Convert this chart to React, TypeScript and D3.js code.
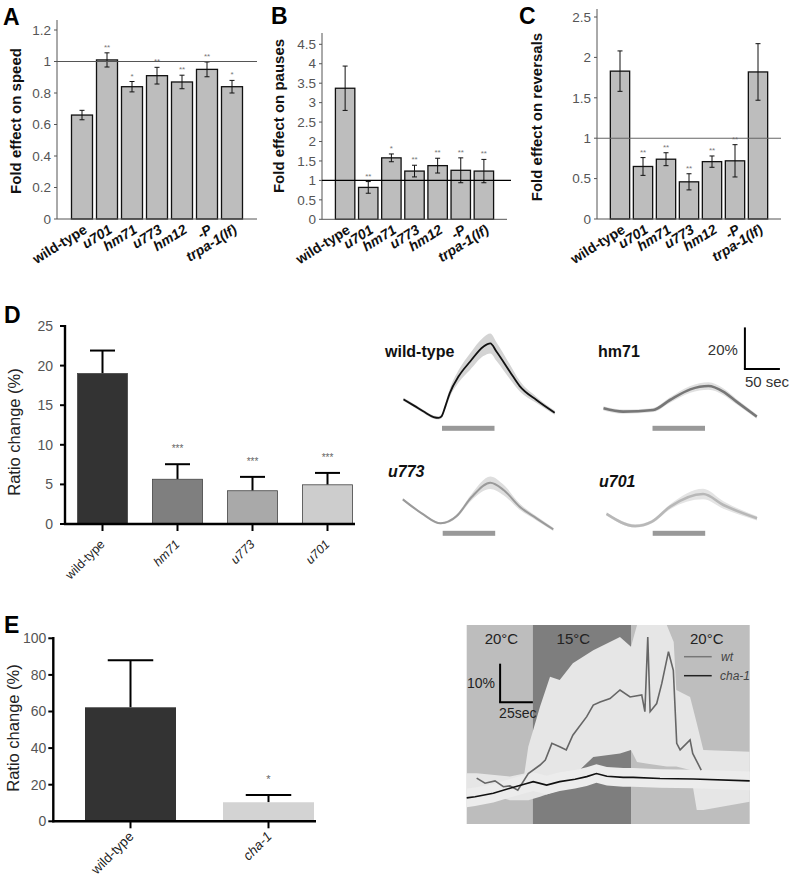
import React from "react";
import * as d3 from "d3";

const FONT = "'Liberation Sans', Arial, Helvetica, sans-serif";

// ---------- Panels A-C ----------
const genotypes = ["wild-type", "u701", "hm71", "u773", "hm12", "-P", "trpa-1(lf)"];
const genoItalic = [false, true, true, true, true, true, true];

const speedMean = [0.66, 1.01, 0.84, 0.91, 0.87, 0.95, 0.84];
const speedErr = [0.03, 0.045, 0.033, 0.053, 0.043, 0.047, 0.04];
const speedSig = ["", "**", "*", "**", "**", "**", "*"];
const speedTicks = [0, 0.2, 0.4, 0.6, 0.8, 1, 1.2];

const pauseMean = [3.37, 0.82, 1.58, 1.24, 1.38, 1.26, 1.24];
const pauseErr = [0.57, 0.15, 0.1, 0.15, 0.19, 0.32, 0.3];
const pauseSig = ["", "**", "*", "**", "**", "**", "**"];
const pauseTicks = [0, 0.5, 1, 1.5, 2, 2.5, 3, 3.5, 4, 4.5];

const revMean = [1.83, 0.65, 0.74, 0.46, 0.71, 0.72, 1.82];
const revErr = [0.25, 0.11, 0.08, 0.1, 0.07, 0.2, 0.35];
const revSig = ["", "**", "**", "**", "**", "**", ""];
const revTicks = [0, 0.5, 1, 1.5, 2, 2.5];

// ---------- Panel D bars ----------
const dGenotypes = ["wild-type", "hm71", "u773", "u701"];
const dItalic = [false, true, true, true];
const dMean = [19, 5.65, 4.2, 4.95];
const dErr = [2.9, 1.9, 1.75, 1.5];
const dSig = ["", "***", "***", "***"];
const dTicks = [0, 5, 10, 15, 20, 25];
const dColors = ["#333333", "#7f7f7f", "#a9a9a9", "#cdcdcd"];

// ---------- Panel D traces (t: s from stimulus onset, v: % ratio change) ----------
const stimulus = [0, 75];
const wtT = [-55, -40, -25, -12, -5, -1, 5, 11, 24, 40, 59, 69, 78, 97, 111, 135, 161];
const wtV = [9.1, 6.1, 3.0, 0.6, 0.2, 0.8, 6, 12, 20.3, 27.2, 34.4, 36, 32, 22.4, 15.5, 8.8, 2.7];
const wtS = [0.8, 0.8, 0.8, 0.8, 0.8, 0.9, 1.5, 2, 3, 4, 4.5, 4.8, 4.5, 3.5, 2.5, 1.5, 1];
const hm71T = [-70, -42, 1, 25, 54, 80, 101, 120, 149];
const hm71V = [4.8, 3.2, 4.0, 8.8, 13.9, 15.5, 12.8, 8.0, 0.8];
const hm71S = [1, 1, 1, 1.3, 1.6, 1.8, 1.6, 1.3, 1];
const u773T = [-57, -30, -3, 20, 41, 68, 87, 110, 134, 158];
const u773V = [11.5, 4.8, 0, 3.5, 12.5, 19.5, 16, 8, 2.4, -2.9];
const u773S = [0.5, 0.5, 0.5, 0.8, 1.5, 3, 2.5, 1.5, 1, 0.8];
const u701T = [-66, -25, -1, 25, 72, 101, 149];
const u701V = [4.5, -1.3, 0.8, 8, 14.1, 8.8, 2.4];
const u701S = [0.8, 0.8, 0.8, 1.2, 2.5, 1.8, 1];

// ---------- Panel E bars ----------
const eGenotypes = ["wild-type", "cha-1"];
const eItalic = [false, true];
const eMean = [62.3, 10.4];
const eErr = [25.7, 4];
const eSig = ["", "*"];
const eTicks = [0, 20, 40, 60, 80, 100];
const eColors = ["#333333", "#d3d3d3"];

// ---------- Panel E trace (t: s, v: %) ----------
const tempStart = [0, 50.4, 125.4];
const tempEnd = [50.4, 125.4, 216];
const tempLabel = ["20°C", "15°C", "20°C"];
const tempColor = ["#bdbdbd", "#7e7e7e", "#bebebe"];
const eWtT = [7.6, 14, 21.6, 28, 33, 39, 47, 56, 60, 65, 71, 76, 81, 91.6, 96.6, 101.8, 109.4, 117, 124.7, 133.6, 136, 138.2, 140, 145, 148.9, 154, 157.7, 160.3, 162.9, 170.5, 172.5, 179];
const eWtV = [4.8, 3.5, 4.1, 2.6, 2.8, 1.7, 6.0, 8.2, 9.5, 13.8, 12.9, 12.1, 15.9, 20.7, 23.7, 24.5, 25.4, 27.6, 25.8, 26.3, 22, 41.3, 22, 24.1, 29.3, 37.5, 32.7, 13.8, 12.1, 14.7, 11.2, 6.9];
const eBandT = [0, 7.6, 33, 44, 47, 56, 63.6, 71, 81, 96.6, 117, 125.4, 130, 137, 152.7, 158, 160, 170.5, 175.6, 180.6, 216];
const eBandHi = [6.1, 6.1, 5.2, 6, 12.9, 23.3, 31, 30.2, 34.5, 37.9, 41.3, 38.8, 44.4, 44.4, 44.4, 40, 27.6, 25.8, 19, 12.1, 11.6];
const eBandLo = [1.7, 1.7, -0.9, -0.9, -0.9, 0, 0.9, 1.7, 5.2, 10.3, 11.2, 12.1, 9, 8.6, 7.8, 7.8, 7.8, 6.9, -3.4, -3.4, -1.3];
const eChaT = [0, 6.4, 20.3, 33, 45.8, 50.8, 61, 71, 82.7, 91.6, 99, 107, 119.5, 127, 147.6, 173, 216];
const eChaV = [-0.3, 0, 0.9, 2.2, 3.4, 3.9, 3.0, 3.9, 4.5, 5.2, 6.0, 5.3, 5.0, 5.0, 4.7, 4.6, 4.1];

function FoldPanel(p: any) {
  const { letter, letterX, letterY, ylabel, ylabelX, ylabelY, xRange, yRange, yMax, axisTop, ticks, mean, err, sig, refColor, refEnd } = p;
  const x = d3.scaleBand<string>().domain(genotypes).range(xRange).paddingInner(0.16).paddingOuter(0.58);
  const y = d3.scaleLinear().domain([0, yMax]).range(yRange);
  const ax = xRange[0];
  const y0 = y(0);
  const bw = x.bandwidth();
  return (
    <g>
      <text x={letterX} y={letterY} fontSize={23} fontWeight="bold">{letter}</text>
      <text transform={`translate(${ylabelX},${ylabelY}) rotate(-90)`} textAnchor="middle" fontSize={15} fontWeight="bold" fill="#111">{ylabel}</text>
      {ticks.map((t: number) => (
        <g key={t}>
          <line x1={ax - 3} x2={ax} y1={y(t)} y2={y(t)} stroke="#555" />
          <text x={ax - 6} y={y(t)} dy="0.35em" textAnchor="end" fontSize={13.5} fill="#555">{String(t)}</text>
        </g>
      ))}
      {genotypes.map((g, i) => {
        const cx = (x(g) as number) + bw / 2;
        return (
          <g key={g}>
            <rect x={x(g)} y={y(mean[i])} width={bw} height={y0 - y(mean[i])} fill="#bdbdbd" stroke="#111" strokeWidth={1.3} />
            <line x1={cx} x2={cx} y1={y(mean[i] - err[i])} y2={y(mean[i] + err[i])} stroke="#111" />
            <line x1={cx - 2.5} x2={cx + 2.5} y1={y(mean[i] - err[i])} y2={y(mean[i] - err[i])} stroke="#111" />
            <line x1={cx - 2.5} x2={cx + 2.5} y1={y(mean[i] + err[i])} y2={y(mean[i] + err[i])} stroke="#111" />
            <text x={cx} y={y(mean[i] + err[i]) - 3} textAnchor="middle" fontSize={8} fill="#777">{sig[i]}</text>
            <text transform={`translate(${cx + 6},${y0 + 13}) rotate(-32)`} textAnchor="end" fontSize={14} fontWeight="bold" fontStyle={genoItalic[i] ? "italic" : "normal"} fill="#111">{g}</text>
          </g>
        );
      })}
      <line x1={ax} x2={ax} y1={y0} y2={axisTop} stroke="#555" />
      <line x1={ax} x2={xRange[1]} y1={y0} y2={y0} stroke="#555" />
      <line x1={ax} x2={refEnd} y1={y(1)} y2={y(1)} stroke={refColor} strokeWidth={1.1} />
    </g>
  );
}

function RatioBars(p: any) {
  const { letter, letterY, names, italic, mean, err, sig, colors, ticks, yMax, yRange, axisTop, bandRange, pIn, pOut, axisEnd, labelSize, labelDx, labelDy, tickLabelGap, xTickLen, sigSize, ylabelX, ylabelY, stroke } = p;
  const x = d3.scaleBand<string>().domain(names).range(bandRange).paddingInner(pIn).paddingOuter(pOut);
  const y = d3.scaleLinear().domain([0, yMax]).range(yRange);
  const ax = bandRange[0];
  const y0 = y(0);
  const bw = x.bandwidth();
  return (
    <g>
      <text x={4} y={letterY} fontSize={23} fontWeight="bold">{letter}</text>
      <text transform={`translate(${ylabelX},${ylabelY}) rotate(-90)`} textAnchor="middle" fontSize={16.5} fill="#222">Ratio change (%)</text>
      {ticks.map((t: number) => (
        <g key={t}>
          <line x1={ax - 5} x2={ax} y1={y(t)} y2={y(t)} stroke="#000" strokeWidth={2} />
          <text x={ax - tickLabelGap} y={y(t)} dy="0.35em" textAnchor="end" fontSize={14} fill="#555">{String(t)}</text>
        </g>
      ))}
      {names.map((g: string, i: number) => {
        const cx = (x(g) as number) + bw / 2;
        const top = y(mean[i] + err[i]);
        return (
          <g key={g}>
            <line x1={cx} x2={cx} y1={y(mean[i])} y2={top} stroke="#000" strokeWidth={2} />
            <line x1={cx - bw / 4} x2={cx + bw / 4} y1={top} y2={top} stroke="#000" strokeWidth={2} />
            <rect x={x(g)} y={y(mean[i])} width={bw} height={y0 - y(mean[i])} fill={colors[i]} stroke={stroke} strokeWidth={0.8} />
            <text x={cx} y={top - 12} textAnchor="middle" fontSize={sigSize} fill="#666">{sig[i]}</text>
            <line x1={cx} x2={cx} y1={y0} y2={y0 + xTickLen} stroke="#000" strokeWidth={2} />
            <text transform={`translate(${cx + labelDx},${y0 + labelDy}) rotate(-45)`} textAnchor="end" fontSize={labelSize} fontStyle={italic[i] ? "italic" : "normal"} fill="#222">{g}</text>
          </g>
        );
      })}
      <line x1={ax} x2={ax} y1={y0 + 1} y2={axisTop} stroke="#000" strokeWidth={2.4} />
      <line x1={ax - 1} x2={axisEnd} y1={y0} y2={y0} stroke="#000" strokeWidth={2.4} />
    </g>
  );
}

function Trace(p: any) {
  const { ox, oy, t, v, s, label, italic, lineColor, bandColor, width } = p;
  const x = d3.scaleLinear().domain([0, 100]).range([ox, ox + 70]);
  const y = d3.scaleLinear().domain([0, 10]).range([oy, oy - 20.8]);
  const idx = d3.range(t.length);
  const area = d3.area<number>().x(i => x(t[i])).y0(i => y(v[i] - s[i])).y1(i => y(v[i] + s[i])).curve(d3.curveMonotoneX);
  const line = d3.line<number>().x(i => x(t[i])).y(i => y(v[i])).curve(d3.curveMonotoneX);
  return (
    <g>
      <path d={area(idx) as string} fill={bandColor} />
      <path d={line(idx) as string} fill="none" stroke={lineColor} strokeWidth={width} />
      <rect x={x(stimulus[0])} y={oy + 7.5} width={x(stimulus[1]) - x(stimulus[0])} height={5} fill="#999" />
      <text x={label.x} y={label.y} fontSize={16} fontWeight="bold" fontStyle={italic ? "italic" : "normal"} fill="#111">{label.text}</text>
    </g>
  );
}

function TracesD() {
  const ox = 652.5, oy = 418.3;
  const x = d3.scaleLinear().domain([0, 100]).range([ox, ox + 70]);
  const y = d3.scaleLinear().domain([0, 10]).range([oy, oy - 20.8]);
  const sbT = 132, sbV = 23.7;
  return (
    <g>
      <Trace ox={442} oy={418.3} t={wtT} v={wtV} s={wtS} label={{ text: "wild-type", x: 385, y: 357 }} italic={false} lineColor="#111" bandColor="#d4d4d4" width={1.8} />
      <Trace ox={652.5} oy={418.3} t={hm71T} v={hm71V} s={hm71S} label={{ text: "hm71", x: 598, y: 357 }} italic={false} lineColor="#777" bandColor="#e0e0e0" width={2.6} />
      <Trace ox={442.7} oy={523.3} t={u773T} v={u773V} s={u773S} label={{ text: "u773", x: 388, y: 477 }} italic={true} lineColor="#9a9a9a" bandColor="#dedede" width={2} />
      <Trace ox={652.7} oy={523.3} t={u701T} v={u701V} s={u701S} label={{ text: "u701", x: 599, y: 487 }} italic={true} lineColor="#b8b8b8" bandColor="#e4e4e4" width={2.6} />
      <line x1={x(sbT)} x2={x(sbT)} y1={y(sbV)} y2={y(sbV + 20)} stroke="#000" strokeWidth={2} />
      <line x1={x(sbT) - 1} x2={x(sbT + 50)} y1={y(sbV)} y2={y(sbV)} stroke="#000" strokeWidth={2} />
      <text x={x(sbT) - 7} y={355} textAnchor="end" fontSize={15} fill="#333">20%</text>
      <text x={x(sbT)} y={387} fontSize={15} fill="#333">50 sec</text>
    </g>
  );
}

function TempTrace() {
  const x = d3.scaleLinear().domain([0, 216]).range([466.7, 749.7]);
  const y = d3.scaleLinear().domain([-7.05, 44.4]).range([824, 625]);
  const bIdx = d3.range(eBandT.length);
  const band = d3.area<number>().x(i => x(eBandT[i])).y0(i => y(eBandLo[i])).y1(i => y(eBandHi[i]));
  const cIdx = d3.range(eChaT.length);
  const chaBand = d3.area<number>().x(i => x(eChaT[i])).y0(i => y(eChaV[i] - 2.4)).y1(i => y(eChaV[i] + 2.4));
  const chaLine = d3.line<number>().x(i => x(eChaT[i])).y(i => y(eChaV[i]));
  const wIdx = d3.range(eWtT.length);
  const wtLine = d3.line<number>().x(i => x(eWtT[i])).y(i => y(eWtV[i]));
  const sbT = 25.5, sbV = 24.4;
  const labelT = [26.5, 81.4, 183.2];
  return (
    <g>
      {tempStart.map((s, i) => (
        <rect key={i} x={x(s)} y={y(44.4)} width={x(tempEnd[i]) - x(s)} height={y(-7.05) - y(44.4)} fill={tempColor[i]} />
      ))}
      <path d={band(bIdx) as string} fill="#e6e6e6" />
      <path d={chaBand(cIdx) as string} fill="#ececec" />
      <path d={wtLine(wIdx) as string} fill="none" stroke="#666" strokeWidth={1.6} />
      <path d={chaLine(cIdx) as string} fill="none" stroke="#111" strokeWidth={1.6} />
      {tempLabel.map((l, i) => (
        <text key={i} x={x(labelT[i])} y={643.5} textAnchor="middle" fontSize={15} fill="#222">{l}</text>
      ))}
      <line x1={684} x2={711.7} y1={656.7} y2={656.7} stroke="#777" strokeWidth={1.5} />
      <text x={721} y={660.5} fontSize={12} fontStyle="italic" fill="#444">wt</text>
      <line x1={684} x2={711.7} y1={675.7} y2={675.7} stroke="#222" strokeWidth={1.5} />
      <text x={720} y={679.5} fontSize={12} fontStyle="italic" fill="#444">cha-1</text>
      <line x1={x(sbT)} x2={x(sbT)} y1={y(sbV)} y2={y(sbV + 10)} stroke="#000" strokeWidth={2} />
      <line x1={x(sbT) - 1} x2={x(sbT + 25)} y1={y(sbV)} y2={y(sbV)} stroke="#000" strokeWidth={2} />
      <text x={467} y={688} fontSize={14} fill="#222">10%</text>
      <text x={x(sbT) - 1} y={718} fontSize={14} fill="#222">25sec</text>
    </g>
  );
}

export default function App() {
  return (
    <svg width={792} height={885} style={{ position: "absolute", left: 0, top: 0 }} fontFamily={FONT}>
      <rect width={792} height={885} fill="#fff" />
      <FoldPanel letter="A" letterX={3} letterY={25} ylabel="Fold effect on speed" ylabelX={21} ylabelY={121}
        xRange={[57, 257]} yRange={[219, 30]} yMax={1.2} axisTop={20} ticks={speedTicks}
        mean={speedMean} err={speedErr} sig={speedSig} refColor="#555" refEnd={257} />
      <FoldPanel letter="B" letterX={271} letterY={24} ylabel="Fold effect on pauses" ylabelX={284} ylabelY={116}
        xRange={[322, 507]} yRange={[219.3, 44.3]} yMax={4.5} axisTop={33} ticks={pauseTicks}
        mean={pauseMean} err={pauseErr} sig={pauseSig} refColor="#000" refEnd={511} />
      <FoldPanel letter="C" letterX={519} letterY={24} ylabel="Fold effect on reversals" ylabelX={542} ylabelY={117}
        xRange={[597, 781]} yRange={[219, 17]} yMax={2.5} axisTop={9} ticks={revTicks}
        mean={revMean} err={revErr} sig={revSig} refColor="#666" refEnd={781} />
      <RatioBars letter="D" letterY={323} names={dGenotypes} italic={dItalic} mean={dMean} err={dErr} sig={dSig}
        colors={dColors} ticks={dTicks} yMax={25} yRange={[524, 326]} axisTop={325} bandRange={[65, 365]}
        pIn={1 / 3} pOut={1 / 6} axisEnd={355} labelSize={12.5} labelDx={3} labelDy={21} tickLabelGap={12}
        xTickLen={7} sigSize={10} ylabelX={20} ylabelY={432} stroke="#444" />
      <TracesD />
      <RatioBars letter="E" letterY={633} names={eGenotypes} italic={eItalic} mean={eMean} err={eErr} sig={eSig}
        colors={eColors} ticks={eTicks} yMax={100} yRange={[821.3, 638.3]} axisTop={637} bandRange={[53.3, 345.7]}
        pIn={0.3406} pOut={0.2297} axisEnd={316} labelSize={13.5} labelDx={4} labelDy={16} tickLabelGap={7}
        xTickLen={7} sigSize={11} ylabelX={19} ylabelY={728} stroke="none" />
      <TempTrace />
    </svg>
  );
}
